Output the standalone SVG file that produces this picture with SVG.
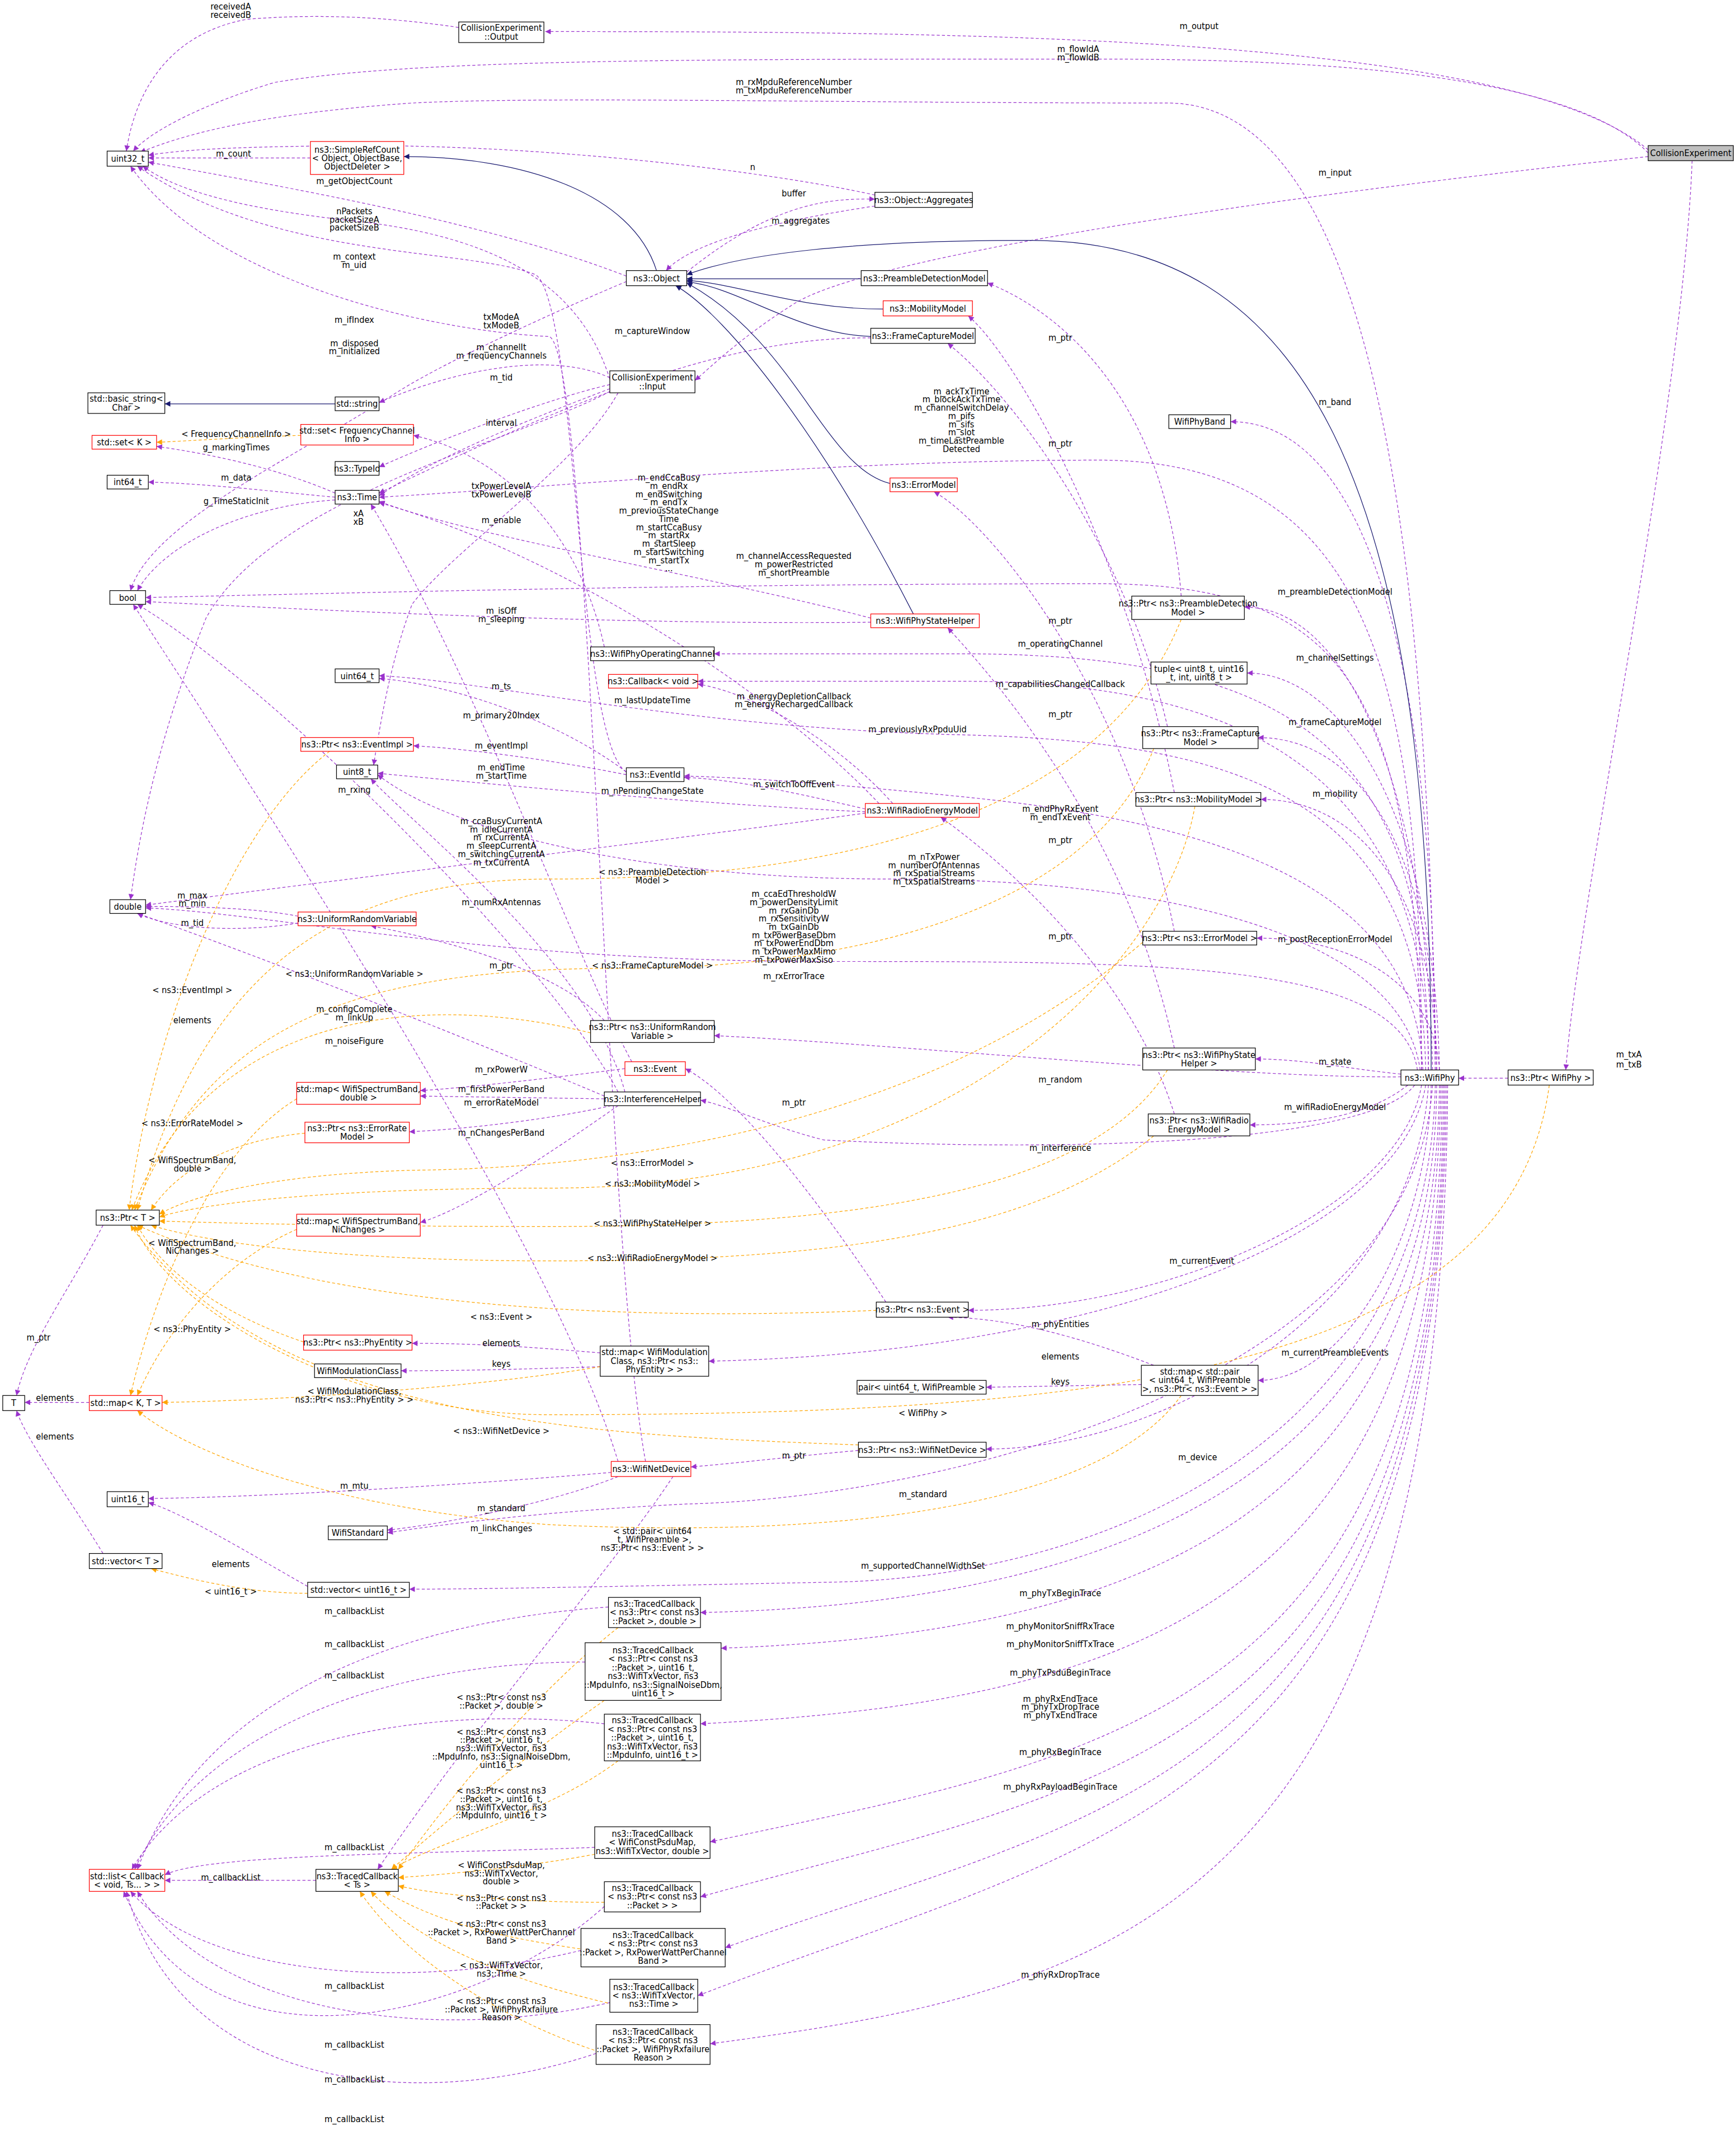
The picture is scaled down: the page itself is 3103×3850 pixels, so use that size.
<svg xmlns="http://www.w3.org/2000/svg" width="3103" height="3850" viewBox="0 0 3103 3850">
<defs>
<style>
.n rect{fill:#fff;stroke:#000;stroke-width:0.5}
.n.r rect{stroke:#f00}
.n.g rect{fill:#bfbfbf}
text{font-family:"DejaVu Sans Condensed","DejaVu Sans",sans-serif;font-size:6.6px;text-anchor:middle;fill:#000}
.e{fill:none;stroke:#9a32cd;stroke-width:0.5;stroke-dasharray:2.2,1.6;marker-end:url(#ap)}
.o{fill:none;stroke:#ffa500;stroke-width:0.5;stroke-dasharray:2.2,1.6;marker-end:url(#ao)}
.i{fill:none;stroke:#191970;stroke-width:0.5;marker-end:url(#an)}
</style>
<marker id="ap" viewBox="0 0 10 10" markerUnits="userSpaceOnUse" markerWidth="5" markerHeight="4" refX="10" refY="5" orient="auto"><path d="M0,0L10,5L0,10z" fill="#9a32cd"/></marker>
<marker id="ao" viewBox="0 0 10 10" markerUnits="userSpaceOnUse" markerWidth="5" markerHeight="4" refX="10" refY="5" orient="auto"><path d="M0,0L10,5L0,10z" fill="#ffa500"/></marker>
<marker id="an" viewBox="0 0 10 10" markerUnits="userSpaceOnUse" markerWidth="5" markerHeight="4" refX="10" refY="5" orient="auto"><path d="M0,0L10,5L0,10z" fill="#191970"/></marker>
</defs>
<rect width="3103" height="3850" fill="#fff"/>
<g transform="scale(2.455)">
<g id="edges">
<path class="e" d="M1200,109 C1100,25 700,23 397,23"/>
<path class="e" d="M1205,117 C1160,60 1000,43 800,43 C500,43 300,43 200,60 C150,75 110,95 97,110"/>
<path class="e" d="M334,20 C280,12 230,10 180,14 C120,25 98,70 92,110"/>
<path class="e" d="M1045,779 C1040,400 1000,75 850,75 C600,75 400,70 300,75 C200,82 140,95 102,111"/>
<path class="e" d="M637,142 C560,125 400,105 250,106 C180,107 140,108 108,113"/>
<path class="e" d="M226,115 L108,115"/>
<path class="e" d="M456,201 C350,160 200,135 108,118"/>
<path class="e" d="M444,276 C420,200 350,170 250,160 C180,152 130,140 104,121"/>
<path class="e" d="M456,562 C420,540 420,220 390,200 C340,180 200,190 100,121"/>
<path class="e" d="M470,1064 C440,900 430,260 400,245 C300,240 150,200 95,121"/>
<path class="e" d="M456,205 C420,220 330,260 290,285 C220,330 110,380 95,430"/>
<path class="e" d="M637,150 C570,160 505,175 485,197"/>
<path class="e" d="M500,198 C560,150 600,144 637,145"/>
<path class="e" d="M444,275 C400,255 330,270 276,293"/>
<path class="e" d="M440,471 C420,380 360,330 301,317"/>
<path class="e" d="M444,280 C400,290 320,320 276,340"/>
<path class="e" d="M634,246 C520,245 400,300 276,359"/>
<path class="e" d="M444,283 C400,300 320,330 276,361"/>
<path class="e" d="M244,359 C200,340 150,330 114,325"/>
<path class="e" d="M244,362 C200,358 150,352 108,351"/>
<path class="e" d="M244,364 C180,368 120,395 100,430"/>
<path class="e" d="M1035,779 C1035,500 1000,335 800,335 C600,335 400,355 276,362"/>
<path class="e" d="M450,286 C420,340 330,400 300,440 C285,480 278,520 272,557"/>
<path class="e" d="M444,285 C380,320 200,360 150,450 C110,550 100,620 95,655"/>
<path class="e" d="M634,450 C520,420 340,390 276,365"/>
<path class="e" d="M1035,779 C1030,500 980,425 800,425 C500,425 250,432 106,435"/>
<path class="e" d="M634,453 C450,455 250,445 106,438"/>
<path class="e" d="M1045,779 C1045,500 1000,307 896,307"/>
<path class="e" d="M1043,779 C1040,600 990,442 906,442"/>
<path class="e" d="M1040,779 C1040,550 950,476 700,476 L520,476"/>
<path class="e" d="M1048,779 C1045,600 980,490 908,490"/>
<path class="e" d="M1040,779 C1040,560 900,496 700,496 L508,496"/>
<path class="e" d="M1046,779 C1045,620 990,537 916,537"/>
<path class="e" d="M1038,779 C1035,580 900,540 700,535 C500,530 350,495 276,492"/>
<path class="e" d="M1036,779 C1030,650 900,600 700,580 C600,570 540,566 498,565"/>
<path class="e" d="M1046,779 C1045,650 990,582 918,582"/>
<path class="e" d="M1034,779 C1020,680 850,640 650,640 C450,640 320,600 275,564"/>
<path class="e" d="M1032,779 C1020,700 850,700 600,700 C350,700 200,665 106,661"/>
<path class="e" d="M1048,779 C1045,720 990,683 915,683"/>
<path class="e" d="M1020,784 C900,785 650,760 520,754"/>
<path class="e" d="M1020,782 C980,778 950,771 914,771"/>
<path class="e" d="M1025,790 C1000,810 960,819 910,819"/>
<path class="e" d="M1030,790 C1000,830 800,840 600,830 C560,820 530,805 510,801"/>
<path class="e" d="M1035,790 C1020,880 850,954 705,954"/>
<path class="e" d="M1038,790 C1020,900 800,985 516,991"/>
<path class="e" d="M1042,790 C1040,900 980,1005 916,1005"/>
<path class="e" d="M1040,790 C1030,950 850,1055 718,1055"/>
<path class="e" d="M1043,790 C1030,1000 700,1090 500,1095 C400,1100 320,1110 282,1116"/>
<path class="e" d="M1045,790 C1040,1050 800,1150 600,1152 C450,1155 350,1157 298,1157"/>
<path class="e" d="M1046,790 C1045,1080 800,1168 510,1174"/>
<path class="e" d="M1048,790 C1045,1120 800,1190 525,1200"/>
<path class="e" d="M1049,790 C1045,1180 800,1240 510,1255"/>
<path class="e" d="M1050,790 C1048,1250 800,1280 517,1341"/>
<path class="e" d="M1051,790 C1050,1280 800,1300 510,1381"/>
<path class="e" d="M1052,790 C1050,1300 800,1320 528,1418"/>
<path class="e" d="M1053,790 C1050,1320 800,1340 508,1453"/>
<path class="e" d="M1054,790 C1050,1400 800,1450 517,1488"/>
<path class="e" d="M1200,114 C1000,135 650,180 580,220 C540,245 520,265 506,277"/>
<path class="e" d="M1232,117 C1225,300 1150,650 1140,779"/>
<path class="e" d="M1098,785 L1062,785"/>
<path class="e" d="M860,434 C850,300 780,230 719,206"/>
<path class="e" d="M850,529 C820,400 740,290 690,250"/>
<path class="e" d="M855,577 C820,400 740,260 705,230"/>
<path class="e" d="M855,678 C820,500 720,380 680,358"/>
<path class="e" d="M855,763 C820,600 720,490 690,457"/>
<path class="e" d="M855,811 C820,700 720,620 685,595"/>
<path class="e" d="M456,562 C400,520 320,497 276,494"/>
<path class="e" d="M640,585 C560,500 400,400 276,366"/>
<path class="e" d="M456,564 C400,553 340,545 301,543"/>
<path class="e" d="M650,585 C610,540 550,505 508,498"/>
<path class="e" d="M630,589 C570,575 530,567 498,566"/>
<path class="e" d="M460,773 C420,700 350,500 270,367"/>
<path class="e" d="M630,591 C500,585 350,570 275,563"/>
<path class="e" d="M450,795 C400,700 200,500 100,440"/>
<path class="e" d="M630,592 C500,610 250,640 106,659"/>
<path class="e" d="M455,795 C430,700 300,600 270,567"/>
<path class="e" d="M217,667 C180,660 130,660 106,660"/>
<path class="e" d="M217,672 C170,680 120,675 100,665"/>
<path class="e" d="M440,743 C400,700 300,680 270,674"/>
<path class="e" d="M440,798 C350,760 200,700 100,665"/>
<path class="e" d="M645,948 C600,880 540,800 499,778"/>
<path class="e" d="M455,778 C400,785 340,792 306,794"/>
<path class="e" d="M440,800 L306,798"/>
<path class="e" d="M445,805 C400,815 340,822 298,824"/>
<path class="e" d="M450,805 C400,840 340,880 306,890"/>
<path class="e" d="M450,1064 C400,900 200,600 97,440"/>
<path class="e" d="M437,985 C380,980 340,978 300,978"/>
<path class="e" d="M437,995 C380,997 330,998 292,998"/>
<path class="e" d="M840,994 C790,975 740,960 690,959"/>
<path class="e" d="M831,1008 L718,1010"/>
<path class="e" d="M75,892 C50,940 20,980 12,1016"/>
<path class="e" d="M65,1021 L18,1021"/>
<path class="e" d="M75,1131 C50,1090 20,1050 12,1027"/>
<path class="e" d="M625,1056 C580,1060 540,1065 503,1068"/>
<path class="e" d="M445,1072 C350,1080 200,1090 108,1091"/>
<path class="e" d="M450,1075 C400,1095 320,1110 282,1114"/>
<path class="e" d="M490,1075 C440,1150 350,1250 275,1361"/>
<path class="e" d="M224,1155 C180,1130 130,1100 108,1094"/>
<path class="e" d="M443,1170 C300,1180 150,1230 100,1361"/>
<path class="e" d="M426,1210 C300,1210 150,1250 98,1361"/>
<path class="e" d="M440,1255 C300,1240 150,1270 96,1361"/>
<path class="e" d="M433,1345 C300,1350 150,1350 120,1365"/>
<path class="e" d="M230,1369 L120,1369"/>
<path class="e" d="M440,1388 C350,1470 150,1520 90,1377"/>
<path class="e" d="M423,1420 C300,1450 150,1440 95,1377"/>
<path class="e" d="M444,1458 C300,1490 150,1460 100,1377"/>
<path class="e" d="M434,1495 C300,1540 130,1520 92,1377"/>
<path class="o" d="M219,317 C180,318 140,321 114,322"/>
<path class="o" d="M860,451 C800,600 600,640 400,640 C250,640 150,700 100,881"/>
<path class="o" d="M840,545 C800,650 650,705 450,705 C250,705 150,750 98,881"/>
<path class="o" d="M430,752 C300,720 150,740 96,881"/>
<path class="o" d="M240,547 C170,600 110,750 94,881"/>
<path class="o" d="M222,825 C170,830 130,850 110,881"/>
<path class="o" d="M832,686 C700,800 500,850 300,852 C200,855 140,870 116,884"/>
<path class="o" d="M870,587 C850,700 700,865 400,865 C250,865 150,875 116,886"/>
<path class="o" d="M850,779 C800,860 650,893 400,893 C250,893 150,890 116,889"/>
<path class="o" d="M840,827 C750,900 600,918 400,918 C250,918 150,905 110,892"/>
<path class="o" d="M638,954 C500,960 250,960 100,892"/>
<path class="o" d="M221,977 C170,960 120,930 100,892"/>
<path class="o" d="M625,1052 C450,1045 200,1040 95,892"/>
<path class="o" d="M1128,790 C1100,1000 800,1030 400,1030 C250,1030 120,950 98,892"/>
<path class="o" d="M216,800 C150,840 110,950 95,1016"/>
<path class="o" d="M216,895 C160,920 120,970 100,1016"/>
<path class="o" d="M437,995 C350,1010 200,1020 118,1021"/>
<path class="o" d="M860,1016 C800,1100 600,1120 400,1110 C250,1100 140,1060 100,1027"/>
<path class="o" d="M224,1160 C180,1160 140,1150 110,1142"/>
<path class="o" d="M450,1185 C380,1240 320,1320 290,1361"/>
<path class="o" d="M440,1238 C380,1280 320,1330 285,1361"/>
<path class="o" d="M450,1282 C400,1320 320,1340 285,1361"/>
<path class="o" d="M433,1350 C380,1360 320,1365 290,1367"/>
<path class="o" d="M440,1385 C380,1385 320,1380 290,1373"/>
<path class="o" d="M430,1420 C360,1410 320,1400 280,1377"/>
<path class="o" d="M450,1460 C360,1440 300,1410 270,1377"/>
<path class="o" d="M440,1495 C360,1470 290,1420 262,1377"/>
<path class="i" d="M478,197 C460,140 380,114 294,114"/>
<path class="i" d="M244,294 L120,294"/>
<path class="i" d="M627,203 L500,203"/>
<path class="i" d="M643,225 C580,225 540,207 500,204"/>
<path class="i" d="M634,245 C580,243 540,210 500,205"/>
<path class="i" d="M648,352 C600,340 580,250 500,206"/>
<path class="i" d="M665,447 C600,320 530,230 492,208"/>
<path class="i" d="M1042,779 C1042,350 950,175 750,175 C620,175 540,185 500,200"/>
</g>
<g id="labels">
<text x="168" y="7">receivedA</text><text x="168" y="13">receivedB</text>
<text x="873" y="21">m_output</text>
<text x="785" y="38">m_flowIdA</text><text x="785" y="44">m_flowIdB</text>
<text x="578" y="62">m_rxMpduReferenceNumber</text><text x="578" y="68">m_txMpduReferenceNumber</text>
<text x="972" y="128">m_input</text>
<text x="1186" y="770">m_txA</text><text x="1186" y="777">m_txB</text>
<text x="548" y="124">n</text>
<text x="170" y="114">m_count</text>
<text x="578" y="143">buffer</text>
<text x="258" y="134">m_getObjectCount</text>
<text x="583" y="163">m_aggregates</text>
<text x="258" y="156">nPackets</text><text x="258" y="162">packetSizeA</text><text x="258" y="168">packetSizeB</text>
<text x="258" y="189">m_context</text><text x="258" y="195">m_uid</text>
<text x="258" y="235">m_ifIndex</text>
<text x="258" y="252">m_disposed</text><text x="258" y="258">m_initialized</text>
<text x="365" y="233">txModeA</text><text x="365" y="239">txModeB</text>
<text x="365" y="255">m_channelIt</text><text x="365" y="261">m_frequencyChannels</text>
<text x="365" y="277">m_tid</text>
<text x="475" y="243">m_captureWindow</text>
<text x="365" y="310">interval</text>
<text x="172" y="318">&lt; FrequencyChannelInfo &gt;</text>
<text x="172" y="328">g_markingTimes</text>
<text x="172" y="350">m_data</text>
<text x="172" y="367">g_TimeStaticInit</text>
<text x="700" y="287">m_ackTxTime</text><text x="700" y="293">m_blockAckTxTime</text><text x="700" y="299">m_channelSwitchDelay</text><text x="700" y="305">m_pifs</text><text x="700" y="311">m_sifs</text><text x="700" y="317">m_slot</text><text x="700" y="323">m_timeLastPreamble</text><text x="700" y="329">Detected</text>
<text x="772" y="325">m_ptr</text>
<text x="772" y="248">m_ptr</text>
<text x="772" y="454">m_ptr</text>
<text x="772" y="522">m_ptr</text>
<text x="772" y="614">m_ptr</text>
<text x="365" y="356">txPowerLevelA</text><text x="365" y="362">txPowerLevelB</text>
<text x="487" y="350">m_endCcaBusy</text><text x="487" y="356">m_endRx</text><text x="487" y="362">m_endSwitching</text><text x="487" y="368">m_endTx</text><text x="487" y="374">m_previousStateChange</text><text x="487" y="380">Time</text><text x="487" y="386">m_startCcaBusy</text><text x="487" y="392">m_startRx</text><text x="487" y="398">m_startSleep</text><text x="487" y="404">m_startSwitching</text><text x="487" y="410">m_startTx</text><text x="487" y="416">...</text>
<text x="261" y="376">xA</text><text x="261" y="382">xB</text>
<text x="365" y="381">m_enable</text>
<text x="578" y="407">m_channelAccessRequested</text><text x="578" y="413">m_powerRestricted</text><text x="578" y="419">m_shortPreamble</text>
<text x="365" y="447">m_isOff</text><text x="365" y="453">m_sleeping</text>
<text x="972" y="295">m_band</text>
<text x="972" y="433">m_preambleDetectionModel</text>
<text x="772" y="471">m_operatingChannel</text>
<text x="972" y="481">m_channelSettings</text>
<text x="772" y="500">m_capabilitiesChangedCallback</text>
<text x="365" y="502">m_ts</text>
<text x="578" y="509">m_energyDepletionCallback</text><text x="578" y="515">m_energyRechargedCallback</text>
<text x="475" y="512">m_lastUpdateTime</text>
<text x="365" y="523">m_primary20Index</text>
<text x="668" y="533">m_previouslyRxPpduUid</text>
<text x="972" y="528">m_frameCaptureModel</text>
<text x="365" y="545">m_eventImpl</text>
<text x="578" y="573">m_switchToOffEvent</text>
<text x="365" y="561">m_endTime</text><text x="365" y="567">m_startTime</text>
<text x="475" y="578">m_nPendingChangeState</text>
<text x="972" y="580">m_mobility</text>
<text x="258" y="577">m_rxing</text>
<text x="772" y="591">m_endPhyRxEvent</text><text x="772" y="597">m_endTxEvent</text>
<text x="365" y="600">m_ccaBusyCurrentA</text><text x="365" y="606">m_idleCurrentA</text><text x="365" y="612">m_rxCurrentA</text><text x="365" y="618">m_sleepCurrentA</text><text x="365" y="624">m_switchingCurrentA</text><text x="365" y="630">m_txCurrentA</text>
<text x="680" y="626">m_nTxPower</text><text x="680" y="632">m_numberOfAntennas</text><text x="680" y="638">m_rxSpatialStreams</text><text x="680" y="644">m_txSpatialStreams</text>
<text x="475" y="637">&lt; ns3::PreambleDetection</text><text x="475" y="643">Model &gt;</text>
<text x="578" y="653">m_ccaEdThresholdW</text><text x="578" y="659">m_powerDensityLimit</text><text x="578" y="665">m_rxGainDb</text><text x="578" y="671">m_rxSensitivityW</text><text x="578" y="677">m_txGainDb</text><text x="578" y="683">m_txPowerBaseDbm</text><text x="578" y="689">m_txPowerEndDbm</text><text x="578" y="695">m_txPowerMaxMimo</text><text x="578" y="701">m_txPowerMaxSiso</text>
<text x="140" y="654">m_max</text><text x="140" y="660">m_min</text>
<text x="140" y="674">m_tid</text>
<text x="365" y="659">m_numRxAntennas</text>
<text x="772" y="684">m_ptr</text>
<text x="972" y="686">m_postReceptionErrorModel</text>
<text x="365" y="705">m_ptr</text>
<text x="475" y="705">&lt; ns3::FrameCaptureModel &gt;</text>
<text x="258" y="711">&lt; ns3::UniformRandomVariable &gt;</text>
<text x="578" y="713">m_rxErrorTrace</text>
<text x="140" y="723">&lt; ns3::EventImpl &gt;</text>
<text x="140" y="745">elements</text>
<text x="258" y="737">m_configComplete</text><text x="258" y="743">m_linkUp</text>
<text x="258" y="760">m_noiseFigure</text>
<text x="578" y="805">m_ptr</text>
<text x="365" y="781">m_rxPowerW</text>
<text x="772" y="788">m_random</text>
<text x="972" y="775">m_state</text>
<text x="365" y="795">m_firstPowerPerBand</text>
<text x="365" y="805">m_errorRateModel</text>
<text x="140" y="820">&lt; ns3::ErrorRateModel &gt;</text>
<text x="972" y="808">m_wifiRadioEnergyModel</text>
<text x="365" y="827">m_nChangesPerBand</text>
<text x="772" y="838">m_interference</text>
<text x="475" y="849">&lt; ns3::ErrorModel &gt;</text>
<text x="140" y="847">&lt; WifiSpectrumBand,</text><text x="140" y="853">double &gt;</text>
<text x="475" y="864">&lt; ns3::MobilityModel &gt;</text>
<text x="475" y="893">&lt; ns3::WifiPhyStateHelper &gt;</text>
<text x="140" y="907">&lt; WifiSpectrumBand,</text><text x="140" y="913">NiChanges &gt;</text>
<text x="475" y="918">&lt; ns3::WifiRadioEnergyModel &gt;</text>
<text x="875" y="920">m_currentEvent</text>
<text x="365" y="961">&lt; ns3::Event &gt;</text>
<text x="772" y="966">m_phyEntities</text>
<text x="140" y="970">&lt; ns3::PhyEntity &gt;</text>
<text x="365" y="980">elements</text>
<text x="772" y="990">elements</text>
<text x="972" y="987">m_currentPreambleEvents</text>
<text x="365" y="995">keys</text>
<text x="772" y="1008">keys</text>
<text x="28" y="976">m_ptr</text>
<text x="40" y="1020">elements</text>
<text x="258" y="1015">&lt; WifiModulationClass,</text><text x="258" y="1021">ns3::Ptr&lt; ns3::PhyEntity &gt; &gt;</text>
<text x="40" y="1048">elements</text>
<text x="365" y="1044">&lt; ns3::WifiNetDevice &gt;</text>
<text x="672" y="1031">&lt; WifiPhy &gt;</text>
<text x="578" y="1062">m_ptr</text>
<text x="872" y="1063">m_device</text>
<text x="258" y="1084">m_mtu</text>
<text x="365" y="1100">m_standard</text>
<text x="672" y="1090">m_standard</text>
<text x="365" y="1115">m_linkChanges</text>
<text x="475" y="1117">&lt; std::pair&lt; uint64</text><text x="475" y="1123">_t, WifiPreamble &gt;,</text><text x="475" y="1129">ns3::Ptr&lt; ns3::Event &gt; &gt;</text>
<text x="168" y="1141">elements</text>
<text x="672" y="1142">m_supportedChannelWidthSet</text>
<text x="168" y="1161">&lt; uint16_t &gt;</text>
<text x="772" y="1162">m_phyTxBeginTrace</text>
<text x="258" y="1175">m_callbackList</text>
<text x="772" y="1186">m_phyMonitorSniffRxTrace</text>
<text x="258" y="1199">m_callbackList</text>
<text x="772" y="1199">m_phyMonitorSniffTxTrace</text>
<text x="772" y="1220">m_phyTxPsduBeginTrace</text>
<text x="258" y="1222">m_callbackList</text>
<text x="365" y="1238">&lt; ns3::Ptr&lt; const ns3</text><text x="365" y="1244">::Packet &gt;, double &gt;</text>
<text x="772" y="1239">m_phyRxEndTrace</text><text x="772" y="1245">m_phyTxDropTrace</text><text x="772" y="1251">m_phyTxEndTrace</text>
<text x="365" y="1263">&lt; ns3::Ptr&lt; const ns3</text><text x="365" y="1269">::Packet &gt;, uint16_t,</text><text x="365" y="1275">ns3::WifiTxVector, ns3</text><text x="365" y="1281">::MpduInfo, ns3::SignalNoiseDbm,</text><text x="365" y="1287">uint16_t &gt;</text>
<text x="772" y="1278">m_phyRxBeginTrace</text>
<text x="365" y="1306">&lt; ns3::Ptr&lt; const ns3</text><text x="365" y="1312">::Packet &gt;, uint16_t,</text><text x="365" y="1318">ns3::WifiTxVector, ns3</text><text x="365" y="1324">::MpduInfo, uint16_t &gt;</text>
<text x="772" y="1303">m_phyRxPayloadBeginTrace</text>
<text x="258" y="1347">m_callbackList</text>
<text x="365" y="1360">&lt; WifiConstPsduMap,</text><text x="365" y="1366">ns3::WifiTxVector,</text><text x="365" y="1372">double &gt;</text>
<text x="168" y="1369">m_callbackList</text>
<text x="365" y="1384">&lt; ns3::Ptr&lt; const ns3</text><text x="365" y="1390">::Packet &gt; &gt;</text>
<text x="365" y="1403">&lt; ns3::Ptr&lt; const ns3</text><text x="365" y="1409">::Packet &gt;, RxPowerWattPerChannel</text><text x="365" y="1415">Band &gt;</text>
<text x="258" y="1448">m_callbackList</text>
<text x="365" y="1433">&lt; ns3::WifiTxVector,</text><text x="365" y="1439">ns3::Time &gt;</text>
<text x="772" y="1440">m_phyRxDropTrace</text>
<text x="365" y="1459">&lt; ns3::Ptr&lt; const ns3</text><text x="365" y="1465">::Packet &gt;, WifiPhyRxfailure</text><text x="365" y="1471">Reason &gt;</text>
<text x="258" y="1491">m_callbackList</text>
<text x="258" y="1516">m_callbackList</text>
<text x="258" y="1545">m_callbackList</text>
</g>
<g id="n1" class="n g"><rect x="1200" y="106" width="62" height="11"/><text x="1231" y="113.8">CollisionExperiment</text></g>
<g id="n2" class="n"><rect x="334" y="16" width="62" height="15"/><text x="365" y="22.6">CollisionExperiment</text><text x="365" y="28.9">::Output</text></g>
<g id="n3" class="n"><rect x="78" y="110" width="30" height="11"/><text x="93" y="117.8">uint32_t</text></g>
<g id="n4" class="n r"><rect x="226" y="103" width="68" height="24"/><text x="260" y="111">ns3::SimpleRefCount</text><text x="260" y="117.3">&lt; Object, ObjectBase,</text><text x="260" y="123.6">ObjectDeleter &gt;</text></g>
<g id="n5" class="n"><rect x="637" y="140" width="71" height="11"/><text x="672.5" y="147.8">ns3::Object::Aggregates</text></g>
<g id="n6" class="n"><rect x="456" y="197" width="44" height="11"/><text x="478" y="204.8">ns3::Object</text></g>
<g id="n7" class="n"><rect x="627" y="197" width="92" height="11"/><text x="673" y="204.8">ns3::PreambleDetectionModel</text></g>
<g id="n8" class="n r"><rect x="643" y="219" width="65" height="11"/><text x="675.5" y="226.8">ns3::MobilityModel</text></g>
<g id="n9" class="n"><rect x="634" y="239" width="76" height="11"/><text x="672" y="246.8">ns3::FrameCaptureModel</text></g>
<g id="n10" class="n"><rect x="444" y="270" width="62" height="16"/><text x="475" y="277.1">CollisionExperiment</text><text x="475" y="283.4">::Input</text></g>
<g id="n11" class="n"><rect x="64" y="286" width="56" height="15"/><text x="92" y="292.6">std::basic_string&lt;</text><text x="92" y="298.9">Char &gt;</text></g>
<g id="n12" class="n"><rect x="244" y="289" width="32" height="10"/><text x="260" y="296.3">std::string</text></g>
<g id="n13" class="n r"><rect x="219" y="309" width="82" height="15"/><text x="260" y="315.6">std::set&lt; FrequencyChannel</text><text x="260" y="321.9">Info &gt;</text></g>
<g id="n14" class="n r"><rect x="67" y="317" width="47" height="10"/><text x="90.5" y="324.3">std::set&lt; K &gt;</text></g>
<g id="n15" class="n"><rect x="244" y="336" width="32" height="10"/><text x="260" y="343.3">ns3::TypeId</text></g>
<g id="n16" class="n"><rect x="78" y="346" width="30" height="10"/><text x="93" y="353.3">int64_t</text></g>
<g id="n17" class="n"><rect x="244" y="357" width="32" height="10"/><text x="260" y="364.3">ns3::Time</text></g>
<g id="n18" class="n r"><rect x="648" y="348" width="49" height="10"/><text x="672.5" y="355.3">ns3::ErrorModel</text></g>
<g id="n19" class="n"><rect x="851" y="302" width="45" height="10"/><text x="873.5" y="309.3">WifiPhyBand</text></g>
<g id="n20" class="n"><rect x="80" y="430" width="26" height="10"/><text x="93" y="437.3">bool</text></g>
<g id="n21" class="n"><rect x="824" y="434" width="82" height="17"/><text x="865" y="441.6">ns3::Ptr&lt; ns3::PreambleDetection</text><text x="865" y="447.9">Model &gt;</text></g>
<g id="n22" class="n r"><rect x="634" y="447" width="79" height="10"/><text x="673.5" y="454.3">ns3::WifiPhyStateHelper</text></g>
<g id="n23" class="n"><rect x="430" y="471" width="90" height="10"/><text x="475" y="478.3">ns3::WifiPhyOperatingChannel</text></g>
<g id="n24" class="n"><rect x="838" y="482" width="70" height="16"/><text x="873" y="489.1">tuple&lt; uint8_t, uint16</text><text x="873" y="495.4">_t, int, uint8_t &gt;</text></g>
<g id="n25" class="n"><rect x="244" y="487" width="32" height="10"/><text x="260" y="494.3">uint64_t</text></g>
<g id="n26" class="n r"><rect x="443" y="491" width="65" height="10"/><text x="475.5" y="498.3">ns3::Callback&lt; void &gt;</text></g>
<g id="n27" class="n"><rect x="832" y="529" width="84" height="16"/><text x="874" y="536.1">ns3::Ptr&lt; ns3::FrameCapture</text><text x="874" y="542.4">Model &gt;</text></g>
<g id="n28" class="n r"><rect x="219" y="537" width="82" height="10"/><text x="260" y="544.3">ns3::Ptr&lt; ns3::EventImpl &gt;</text></g>
<g id="n29" class="n"><rect x="456" y="559" width="42" height="10"/><text x="477" y="566.3">ns3::EventId</text></g>
<g id="n30" class="n"><rect x="245" y="557" width="30" height="10"/><text x="260" y="564.3">uint8_t</text></g>
<g id="n31" class="n r"><rect x="630" y="585" width="83" height="10"/><text x="671.5" y="592.3">ns3::WifiRadioEnergyModel</text></g>
<g id="n32" class="n"><rect x="827" y="577" width="91" height="10"/><text x="872.5" y="584.3">ns3::Ptr&lt; ns3::MobilityModel &gt;</text></g>
<g id="n33" class="n"><rect x="80" y="655" width="26" height="10"/><text x="93" y="662.3">double</text></g>
<g id="n34" class="n r"><rect x="217" y="664" width="86" height="10"/><text x="260" y="671.3">ns3::UniformRandomVariable</text></g>
<g id="n35" class="n"><rect x="832" y="678" width="83" height="10"/><text x="873.5" y="685.3">ns3::Ptr&lt; ns3::ErrorModel &gt;</text></g>
<g id="n36" class="n"><rect x="430" y="743" width="90" height="16"/><text x="475" y="750.1">ns3::Ptr&lt; ns3::UniformRandom</text><text x="475" y="756.4">Variable &gt;</text></g>
<g id="n37" class="n"><rect x="832" y="763" width="82" height="16"/><text x="873" y="770.1">ns3::Ptr&lt; ns3::WifiPhyState</text><text x="873" y="776.4">Helper &gt;</text></g>
<g id="n38" class="n"><rect x="1020" y="779" width="42" height="11"/><text x="1041" y="786.8">ns3::WifiPhy</text></g>
<g id="n39" class="n"><rect x="1098" y="779" width="62" height="11"/><text x="1129" y="786.8">ns3::Ptr&lt; WifiPhy &gt;</text></g>
<g id="n40" class="n r"><rect x="455" y="773" width="44" height="10"/><text x="477" y="780.3">ns3::Event</text></g>
<g id="n41" class="n r"><rect x="216" y="788" width="90" height="16"/><text x="261" y="795.1">std::map&lt; WifiSpectrumBand,</text><text x="261" y="801.4">double &gt;</text></g>
<g id="n42" class="n"><rect x="440" y="795" width="70" height="10"/><text x="475" y="802.3">ns3::InterferenceHelper</text></g>
<g id="n43" class="n r"><rect x="222" y="817" width="76" height="15"/><text x="260" y="823.6">ns3::Ptr&lt; ns3::ErrorRate</text><text x="260" y="829.9">Model &gt;</text></g>
<g id="n44" class="n"><rect x="836" y="811" width="74" height="16"/><text x="873" y="818.1">ns3::Ptr&lt; ns3::WifiRadio</text><text x="873" y="824.4">EnergyModel &gt;</text></g>
<g id="n45" class="n"><rect x="70" y="881" width="46" height="11"/><text x="93" y="888.8">ns3::Ptr&lt; T &gt;</text></g>
<g id="n46" class="n r"><rect x="216" y="884" width="90" height="16"/><text x="261" y="891.1">std::map&lt; WifiSpectrumBand,</text><text x="261" y="897.4">NiChanges &gt;</text></g>
<g id="n47" class="n"><rect x="638" y="948" width="67" height="11"/><text x="671.5" y="955.8">ns3::Ptr&lt; ns3::Event &gt;</text></g>
<g id="n48" class="n r"><rect x="221" y="972" width="79" height="11"/><text x="260.5" y="979.8">ns3::Ptr&lt; ns3::PhyEntity &gt;</text></g>
<g id="n49" class="n"><rect x="229" y="993" width="63" height="10"/><text x="260.5" y="1000.3">WifiModulationClass</text></g>
<g id="n50" class="n"><rect x="437" y="980" width="79" height="22"/><text x="476.5" y="986.7">std::map&lt; WifiModulation</text><text x="476.5" y="993">Class, ns3::Ptr&lt; ns3::</text><text x="476.5" y="999.3">PhyEntity &gt; &gt;</text></g>
<g id="n51" class="n"><rect x="624" y="1005" width="94" height="10"/><text x="671" y="1012.3">pair&lt; uint64_t, WifiPreamble &gt;</text></g>
<g id="n52" class="n"><rect x="831" y="994" width="85" height="22"/><text x="873.5" y="1000.7">std::map&lt; std::pair</text><text x="873.5" y="1007">&lt; uint64_t, WifiPreamble</text><text x="873.5" y="1013.3">&gt;, ns3::Ptr&lt; ns3::Event &gt; &gt;</text></g>
<g id="n53" class="n"><rect x="2" y="1016" width="16" height="11"/><text x="10" y="1023.8">T</text></g>
<g id="n54" class="n r"><rect x="65" y="1016" width="53" height="11"/><text x="91.5" y="1023.8">std::map&lt; K, T &gt;</text></g>
<g id="n55" class="n"><rect x="625" y="1050" width="93" height="11"/><text x="671.5" y="1057.8">ns3::Ptr&lt; ns3::WifiNetDevice &gt;</text></g>
<g id="n56" class="n r"><rect x="445" y="1064" width="58" height="11"/><text x="474" y="1071.8">ns3::WifiNetDevice</text></g>
<g id="n57" class="n"><rect x="78" y="1086" width="30" height="11"/><text x="93" y="1093.8">uint16_t</text></g>
<g id="n58" class="n"><rect x="239" y="1111" width="43" height="10"/><text x="260.5" y="1118.3">WifiStandard</text></g>
<g id="n59" class="n"><rect x="65" y="1131" width="53" height="11"/><text x="91.5" y="1138.8">std::vector&lt; T &gt;</text></g>
<g id="n60" class="n"><rect x="224" y="1152" width="74" height="11"/><text x="261" y="1159.8">std::vector&lt; uint16_t &gt;</text></g>
<g id="n61" class="n"><rect x="443" y="1163" width="67" height="22"/><text x="476.5" y="1169.7">ns3::TracedCallback</text><text x="476.5" y="1176">&lt; ns3::Ptr&lt; const ns3</text><text x="476.5" y="1182.3">::Packet &gt;, double &gt;</text></g>
<g id="n62" class="n"><rect x="426" y="1196" width="99" height="42"/><text x="475.5" y="1203.6">ns3::TracedCallback</text><text x="475.5" y="1209.9">&lt; ns3::Ptr&lt; const ns3</text><text x="475.5" y="1216.2">::Packet &gt;, uint16_t,</text><text x="475.5" y="1222.5">ns3::WifiTxVector, ns3</text><text x="475.5" y="1228.8">::MpduInfo, ns3::SignalNoiseDbm,</text><text x="475.5" y="1235.1">uint16_t &gt;</text></g>
<g id="n63" class="n"><rect x="440" y="1248" width="70" height="34"/><text x="475" y="1254.7">ns3::TracedCallback</text><text x="475" y="1261">&lt; ns3::Ptr&lt; const ns3</text><text x="475" y="1267.3">::Packet &gt;, uint16_t,</text><text x="475" y="1273.6">ns3::WifiTxVector, ns3</text><text x="475" y="1279.9">::MpduInfo, uint16_t &gt;</text></g>
<g id="n64" class="n"><rect x="433" y="1330" width="84" height="23"/><text x="475" y="1337.2">ns3::TracedCallback</text><text x="475" y="1343.5">&lt; WifiConstPsduMap,</text><text x="475" y="1349.8">ns3::WifiTxVector, double &gt;</text></g>
<g id="n65" class="n r"><rect x="65" y="1361" width="55" height="16"/><text x="92.5" y="1368.1">std::list&lt; Callback</text><text x="92.5" y="1374.4">&lt; void, Ts... &gt; &gt;</text></g>
<g id="n66" class="n"><rect x="230" y="1361" width="60" height="16"/><text x="260" y="1368.1">ns3::TracedCallback</text><text x="260" y="1374.4">&lt; Ts &gt;</text></g>
<g id="n67" class="n"><rect x="440" y="1370" width="70" height="22"/><text x="475" y="1376.7">ns3::TracedCallback</text><text x="475" y="1383">&lt; ns3::Ptr&lt; const ns3</text><text x="475" y="1389.3">::Packet &gt; &gt;</text></g>
<g id="n68" class="n"><rect x="423" y="1404" width="105" height="28"/><text x="475.5" y="1410.9">ns3::TracedCallback</text><text x="475.5" y="1417.2">&lt; ns3::Ptr&lt; const ns3</text><text x="475.5" y="1423.5">::Packet &gt;, RxPowerWattPerChannel</text><text x="475.5" y="1429.8">Band &gt;</text></g>
<g id="n69" class="n"><rect x="444" y="1441" width="64" height="24"/><text x="476" y="1448.7">ns3::TracedCallback</text><text x="476" y="1455">&lt; ns3::WifiTxVector,</text><text x="476" y="1461.3">ns3::Time &gt;</text></g>
<g id="n70" class="n"><rect x="434" y="1474" width="83" height="29"/><text x="475.5" y="1481.4">ns3::TracedCallback</text><text x="475.5" y="1487.7">&lt; ns3::Ptr&lt; const ns3</text><text x="475.5" y="1494">::Packet &gt;, WifiPhyRxfailure</text><text x="475.5" y="1500.3">Reason &gt;</text></g>
</g>
</svg>
